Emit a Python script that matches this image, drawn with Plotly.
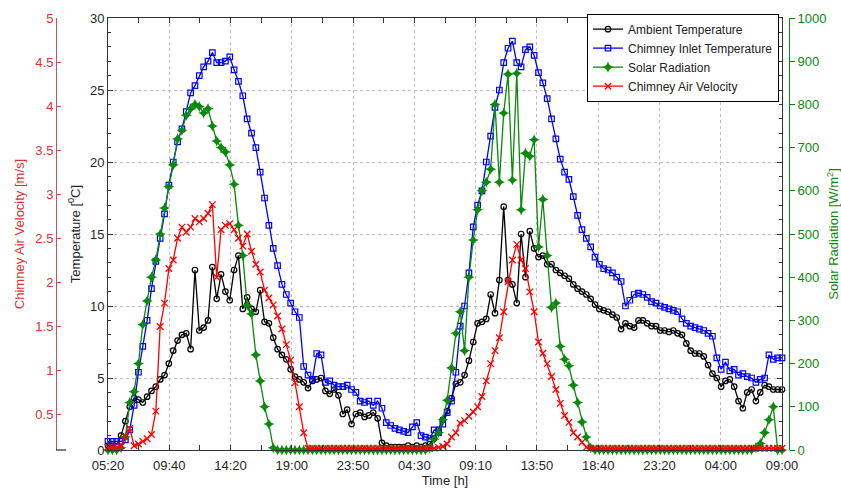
import plotly.graph_objects as go

# ---------------- data (20-min samples, index 0..155) ----------------
tick_labels = ["05:20", "09:40", "14:20", "19:00", "23:50", "04:30",
               "09:10", "13:50", "18:40", "23:20", "04:00", "09:00"]

ambient_temp = [
    0.3, 0.3, 0.4, 1.0, 2.0, 3.0, 3.6, 3.5, 3.3, 3.7,
    4.1, 4.4, 4.9, 5.2, 6.0, 6.9, 7.6, 8.0, 8.1, 7.0,
    12.5, 8.3, 8.5, 9.0, 12.7, 10.5, 12.2, 11.0, 10.4, 12.5,
    13.5, 9.8, 10.6, 9.8, 9.6, 11.1, 8.9, 8.8, 7.8, 7.0,
    6.6, 6.3, 5.6, 5.1, 4.9, 4.7, 4.3, 4.8, 4.9, 5.0,
    4.1, 3.9, 4.2, 3.8, 2.5, 2.8, 1.8, 2.5, 2.6, 2.3,
    2.4, 2.6, 2.2, 0.5, 0.3, 0.2, 0.2, 0.2, 0.2, 0.3,
    0.2, 0.3, 0.2, 0.3, 0.4, 0.8, 1.4, 2.1, 2.7, 3.6,
    4.6, 4.7, 5.2, 6.2, 7.5, 8.8, 8.9, 9.1, 10.8, 9.5,
    11.8, 16.9, 11.8, 11.5, 10.2, 15.0, 12.0, 15.2, 14.0, 13.4,
    13.5, 12.9, 12.9, 12.5, 12.3, 12.1, 11.9, 11.5, 11.2, 11.0,
    10.8, 10.5, 10.1, 9.8, 9.7, 9.6, 9.4, 9.2, 8.4, 8.8,
    8.6, 8.5, 9.0, 9.0, 8.8, 8.6, 8.6, 8.3, 8.3, 8.2,
    8.3, 8.1, 8.0, 7.4, 6.9, 6.7, 6.7, 6.5, 5.9, 5.3,
    5.0, 4.4, 4.8, 4.9, 4.4, 3.4, 2.9, 4.0, 4.2, 3.4,
    4.0, 4.5, 4.4, 4.2, 4.2, 4.2,
]

inlet_temp = [
    0.6, 0.6, 0.6, 0.6, 0.7, 1.4, 3.1, 5.4, 7.2, 9.0,
    11.2, 13.1, 14.7, 16.4, 18.4, 20.0, 21.4, 22.3, 23.5, 24.8,
    25.3, 26.0, 26.6, 27.0, 27.6, 26.9, 26.9, 27.0, 27.3, 26.4,
    25.6, 24.6, 23.0, 22.0, 21.0, 19.3, 17.5, 15.6, 14.0, 12.8,
    11.5, 10.8, 10.2, 9.6, 9.2, 5.8, 5.2, 4.9, 6.7, 6.6,
    4.7, 4.8, 4.5, 4.4, 4.4, 4.5, 4.2, 4.0, 3.4, 3.3,
    3.4, 3.1, 3.4, 2.9, 1.9, 1.7, 1.5, 1.4, 1.3, 1.2,
    1.6, 1.9, 1.0, 0.9, 0.8, 1.4, 1.2, 1.8, 2.6, 3.4,
    5.4, 8.6, 10.0, 12.3, 15.5, 17.0, 18.0, 20.0, 21.8, 23.8,
    25.0, 26.9, 27.9, 28.4, 26.9, 26.6, 27.8, 28.0, 27.4, 26.2,
    25.5, 24.4, 23.0, 21.6, 20.2, 19.3, 18.8, 17.6, 16.3, 15.3,
    14.7, 14.1, 13.4, 12.9, 12.6, 12.5, 12.3, 12.0, 11.7, 10.0,
    10.4, 10.8, 10.9, 10.8, 10.6, 10.3, 10.2, 10.0, 9.9, 9.8,
    9.7, 9.6, 9.1, 8.8, 8.6, 8.5, 8.4, 8.3, 8.1, 7.9,
    6.4, 5.6, 6.1, 5.5, 5.6, 5.2, 5.3, 5.1, 5.0, 4.7,
    4.9, 5.0, 6.6, 6.3, 6.4, 6.4,
]

solar_rad = [
    0, 0, 0, 5, 30, 110, 135, 200, 290, 345,
    400, 440, 500, 560, 610, 660, 720, 740, 775, 790,
    800, 795, 780, 790, 750, 715, 700, 690, 660, 615,
    520, 450, 335, 315, 220, 160, 100, 60, 5, 0,
    0, 0, 0, 0, 0, 0, 0, 0, 0, 0,
    0, 0, 0, 0, 0, 0, 0, 0, 0, 0,
    0, 0, 0, 0, 0, 0, 0, 0, 0, 0,
    0, 0, 0, 0, 5, 25, 40, 70, 115, 190,
    270, 320, 230, 400, 486, 556, 600, 620, 650, 800,
    620, 780, 870, 625, 872, 556, 687, 680, 718, 470,
    580, 450, 330, 340, 240, 210, 195, 150, 110, 65,
    30, 5, 0, 0, 0, 0, 0, 0, 0, 0,
    0, 0, 0, 0, 0, 0, 0, 0, 0, 0,
    0, 0, 0, 0, 0, 0, 0, 0, 0, 0,
    0, 0, 0, 0, 0, 0, 0, 0, 0, 5,
    15, 40, 70, 100, 0, 0,
]

air_velocity = [
    0.03, 0.03, 0.03, 0.05, 0.15, 0.25, 0.05, 0.07, 0.10, 0.13,
    0.18, 0.45, 1.43, 1.70, 2.10, 2.20, 2.45, 2.58, 2.52, 2.58,
    2.68, 2.64, 2.68, 2.74, 2.84, 2.00, 2.55, 2.60, 2.62, 2.55,
    2.45, 2.36, 2.50, 2.30, 2.15, 2.06, 1.85, 1.76, 1.68, 1.55,
    1.40, 1.22, 1.04, 0.78, 0.50, 0.20, 0.02, 0.02, 0.02, 0.02,
    0.02, 0.02, 0.02, 0.02, 0.02, 0.02, 0.02, 0.02, 0.02, 0.02,
    0.02, 0.02, 0.02, 0.02, 0.02, 0.02, 0.02, 0.02, 0.02, 0.02,
    0.02, 0.02, 0.02, 0.02, 0.02, 0.02, 0.03, 0.04, 0.07, 0.15,
    0.20, 0.31, 0.34, 0.39, 0.44, 0.50, 0.62, 0.80, 1.00, 1.15,
    1.30, 1.60, 1.95, 2.20, 2.38, 2.20, 2.10, 1.83, 1.60, 1.25,
    1.12, 1.00, 0.85, 0.70, 0.54, 0.40, 0.32, 0.20, 0.15, 0.09,
    0.03, 0.02, 0.02, 0.02, 0.02, 0.02, 0.02, 0.02, 0.02, 0.02,
    0.02, 0.02, 0.02, 0.02, 0.02, 0.02, 0.02, 0.02, 0.02, 0.02,
    0.02, 0.02, 0.02, 0.02, 0.02, 0.02, 0.02, 0.02, 0.02, 0.02,
    0.02, 0.02, 0.02, 0.02, 0.02, 0.02, 0.02, 0.02, 0.02, 0.02,
    0.02, 0.02, 0.02, 0.02, 0.02, 0.02,
]

velocity_ticks = [0.5, 1, 1.5, 2, 2.5, 3, 3.5, 4, 4.5, 5]
solar_ticks = [0, 100, 200, 300, 400, 500, 600, 700, 800, 900, 1000]

n = len(ambient_temp)
assert n == len(inlet_temp) == len(solar_rad) == len(air_velocity), (
    len(ambient_temp), len(inlet_temp), len(solar_rad), len(air_velocity))
x = list(range(n))
last = n - 1
tick_pos = [last * k / (len(tick_labels) - 1) for k in range(len(tick_labels))]

FONT = "Liberation Sans, Arial, Helvetica, sans-serif"
BLACK = "#000000"
BLUE = "#0000ff"
GREEN = "#0a8a0a"
RED = "#ff0000"
VEL_RED = "#e03030"
AXIS_TXT = "#262626"

fig = go.Figure()
fig.add_trace(go.Scatter(
    x=x, y=ambient_temp, name="Ambient Temperature", mode="lines+markers",
    line=dict(color=BLACK, width=1.3),
    marker=dict(symbol="circle-open", size=5.5, color=BLACK, line=dict(width=1.2)),
    yaxis="y", cliponaxis=False))
fig.add_trace(go.Scatter(
    x=x, y=inlet_temp, name="Chimney Inlet Temperature", mode="lines+markers",
    line=dict(color=BLUE, width=1.3),
    marker=dict(symbol="square-open", size=5.5, color=BLUE, line=dict(width=1.2)),
    yaxis="y", cliponaxis=False))
fig.add_trace(go.Scatter(
    x=x, y=solar_rad, name="Solar Radiation", mode="lines+markers",
    line=dict(color=GREEN, width=1.3),
    marker=dict(symbol="star-diamond", size=8, color=GREEN, line=dict(width=0)),
    yaxis="y2", cliponaxis=False))
fig.add_trace(go.Scatter(
    x=[], y=[], showlegend=False, hoverinfo="skip", yaxis="y3"))
fig.add_trace(go.Scatter(
    x=x, y=air_velocity, name="Chimney Air Velocity", mode="lines+markers",
    line=dict(color=RED, width=1.3),
    marker=dict(symbol="x-thin-open", size=6.5, color=RED, line=dict(width=1.3, color=RED)),
    yaxis="y4", cliponaxis=False))

L, R, T, B = 40, 40, 18, 40
W, H = 841, 490
pw = W - L - R
x0 = (108 - L) / pw
x1 = (782 - L) / pw

fig.update_layout(
    width=W, height=H,
    margin=dict(l=L, r=R, t=T, b=B, autoexpand=False),
    paper_bgcolor="white", plot_bgcolor="white",
    font=dict(family=FONT, size=13, color=AXIS_TXT),
    showlegend=True,
    legend=dict(x=(779 - L) / pw, xanchor="right", y=1.01, yanchor="top",
                bgcolor="white", bordercolor="#000000", borderwidth=1,
                font=dict(size=12, color="#222222"), tracegroupgap=0),
    xaxis=dict(
        domain=[x0, x1], range=[0, last], automargin=False,
        tickmode="array", tickvals=tick_pos, ticktext=tick_labels,
        ticks="inside", ticklen=5, tickcolor="#333333",
        ticklabelstandoff=3,
        showline=True, linecolor="#333333", linewidth=1, mirror="allticks",
        showgrid=True, gridcolor="#bdbdbd", griddash="dot", gridwidth=1,
        zeroline=False,
        minor=dict(ticks="inside", ticklen=3, tick0=0, dtick=last / 22,
                   tickcolor="#333333", showgrid=False),
        title=dict(text="Time [h]", standoff=3, font=dict(size=13, color=AXIS_TXT)),
        tickfont=dict(size=13, color=AXIS_TXT),
    ),
    yaxis=dict(
        range=[0, 30], tickmode="linear", tick0=0, dtick=5, automargin=False,
        ticks="inside", ticklen=5, tickcolor="#333333",
        showline=True, linecolor="#333333", linewidth=1, mirror="allticks",
        showgrid=True, gridcolor="#bdbdbd", griddash="dot", gridwidth=1,
        zeroline=False,
        minor=dict(ticks="inside", ticklen=3, dtick=1, tickcolor="#333333",
                   showgrid=False),
        title=dict(text="Temperature [<sup>0</sup>C]", standoff=6,
                   font=dict(size=13, color=AXIS_TXT)),
        tickfont=dict(size=13, color=AXIS_TXT),
    ),
    yaxis2=dict(
        overlaying="y", side="right", anchor="free", automargin=False,
        position=(789 - L) / pw, range=[0, 1000],
        tickmode="array", tickvals=solar_ticks,
        ticks="outside", ticklen=5, tickcolor=GREEN,
        showline=True, linecolor=GREEN, linewidth=1,
        showgrid=False, zeroline=False,
        title=dict(text="Solar Radiation [W/m<sup>2</sup>]", standoff=8,
                   font=dict(size=13, color=GREEN)),
        tickfont=dict(size=13, color=GREEN),
    ),
    yaxis3=dict(
        overlaying="y", side="left", anchor="free", automargin=False,
        position=(56 - L) / pw, range=[0.1, 5],
        tickmode="array", tickvals=velocity_ticks,
        ticktext=[("%g" % v) for v in velocity_ticks],
        ticks="inside", ticklen=4, tickcolor="#c85050",
        showline=True, linecolor="#c85050", linewidth=1,
        showgrid=False, zeroline=False,
        title=dict(text="Chimney Air Velocity [m/s]", standoff=6,
                   font=dict(size=13, color=VEL_RED)),
        tickfont=dict(size=13, color=VEL_RED),
    ),
    yaxis4=dict(overlaying="y", range=[0, 5], visible=False),
    shapes=[dict(type="line", xref="paper", yref="paper",
                 x0=(56 - L) / pw, x1=(66 - L) / pw, y0=0, y1=0,
                 line=dict(color="#000000", width=1))],
)

fig.write_html("out.html")
